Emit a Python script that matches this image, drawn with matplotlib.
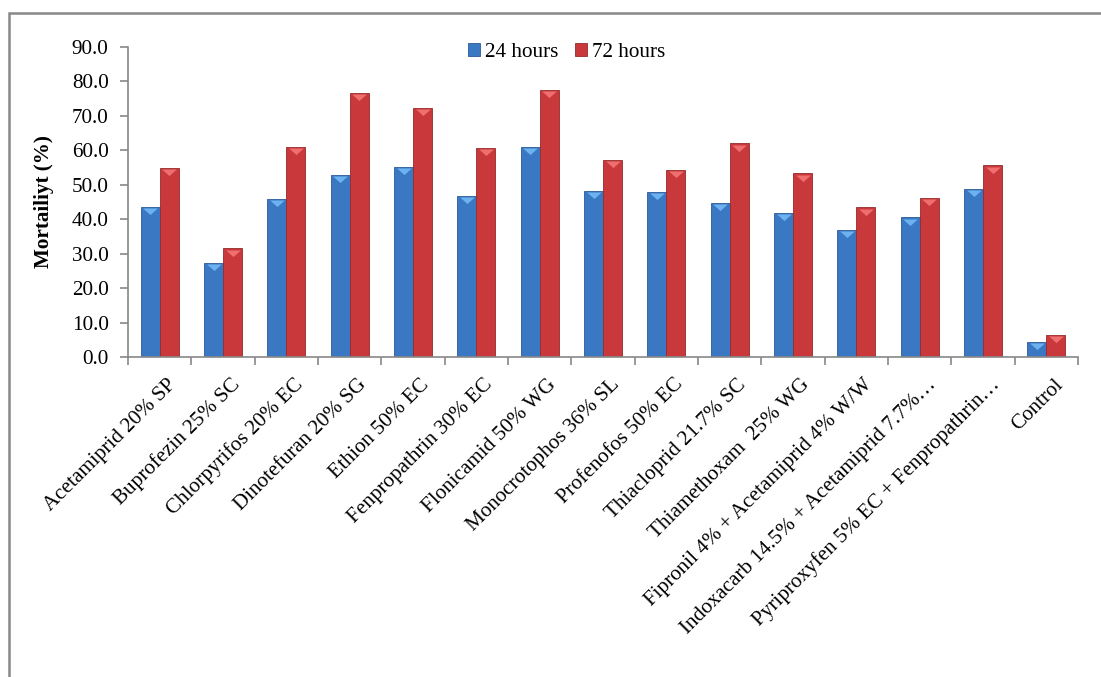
import numpy as np
import matplotlib
matplotlib.use('Agg')
import matplotlib.pyplot as plt
import matplotlib.transforms as mtrans
from matplotlib.patches import Rectangle

categories = ['Acetamiprid 20% SP', 'Buprofezin 25% SC', 'Chlorpyrifos 20% EC',
              'Dinotefuran 20% SG', 'Ethion 50% EC', 'Fenpropathrin 30% EC',
              'Flonicamid 50% WG', 'Monocrotophos 36% SL', 'Profenofos 50% EC',
              'Thiacloprid 21.7% SC', 'Thiamethoxam  25% WG',
              'Fipronil 4% + Acetamiprid 4% W/W',
              'Indoxacarb 14.5% + Acetamiprid 7.7%\u2026',
              'Pyriproxyfen 5% EC + Fenpropathrin\u2026', 'Control']
h24 = [43.6, 27.2, 46.0, 52.8, 55.3, 46.8, 60.9, 48.3, 47.8, 44.6, 41.8, 36.9, 40.5, 48.9, 4.4]
h72 = [54.8, 31.5, 61.1, 76.6, 72.4, 60.8, 77.5, 57.2, 54.3, 62.0, 53.3, 43.4, 46.3, 55.6, 6.3]
yticks = np.arange(0, 91, 10)

plt.rcParams['font.family'] = ['Liberation Serif', 'DejaVu Serif']
fs = 15.2

fig = plt.figure(figsize=(11.01, 6.77), dpi=100)
# grey frame round the chart (left and top edges visible)
fig.patches.append(Rectangle((0.0085, -0.01), 1.2, 0.991, transform=fig.transFigure,
                             fill=False, edgecolor='#888888', linewidth=1.8))
ax = fig.add_axes([0.1163, 0.4727, 0.8629, 0.4579])

x = np.arange(len(categories))
w = 0.3
blue = '#3b78c3'
red = '#c9383a'
ax.bar(x - w / 2, h24, w, color=blue, edgecolor='#2a5a95', linewidth=0.6, label='24 hours')
ax.bar(x + w / 2, h72, w, color=red, edgecolor='#952a2b', linewidth=0.6, label='72 hours')

# little bevel triangles on the bar tops (flat edge flush with the top)
tri = [(-1, 0), (1, 0), (0, -0.9), (-1, 0)]
down = ax.transData + mtrans.ScaledTranslation(0, -0.8 / 72, fig.dpi_scale_trans)
ax.plot(x - w / 2, h24, ls='none', marker=tri, ms=10.5, color='#6cb2f0', mew=0, transform=down)
ax.plot(x + w / 2, h72, ls='none', marker=tri, ms=10.5, color='#ef6f70', mew=0, transform=down)

ax.set_xlim(-0.5, len(categories) - 0.5)
ax.set_ylim(0, 90)
ax.set_yticks(yticks)
ax.set_yticklabels(['%.1f' % v for v in yticks], fontsize=fs)
ax.set_xticks(x)
ax.set_xticklabels(categories, rotation=45, ha='right', rotation_mode='anchor', fontsize=fs)
ax.tick_params(axis='x', length=0, pad=13)
shift = mtrans.ScaledTranslation(5 / 72, 0, fig.dpi_scale_trans)
for lab in ax.get_xticklabels():
    lab.set_transform(lab.get_transform() + shift)
ax.set_xticks(np.arange(-0.5, len(categories), 1), minor=True)
ax.tick_params(axis='x', which='minor', length=6, color='#888888', width=1.2)
ax.tick_params(axis='y', length=6, color='#888888', width=1.2, pad=8)

for s in ['top', 'right']:
    ax.spines[s].set_visible(False)
for s in ['left', 'bottom']:
    ax.spines[s].set_color('#888888')
    ax.spines[s].set_linewidth(1.2)

ax.set_ylabel('Mortailiyt (%)', fontsize=fs, fontweight='bold', labelpad=13)

ax.legend(loc='upper center', bbox_to_anchor=(0.462, 1.075), ncol=2, frameon=False,
          fontsize=fs, handlelength=0.55, handleheight=0.55, handletextpad=0.25,
          columnspacing=0.8)

fig.savefig('out.png', dpi=100)
